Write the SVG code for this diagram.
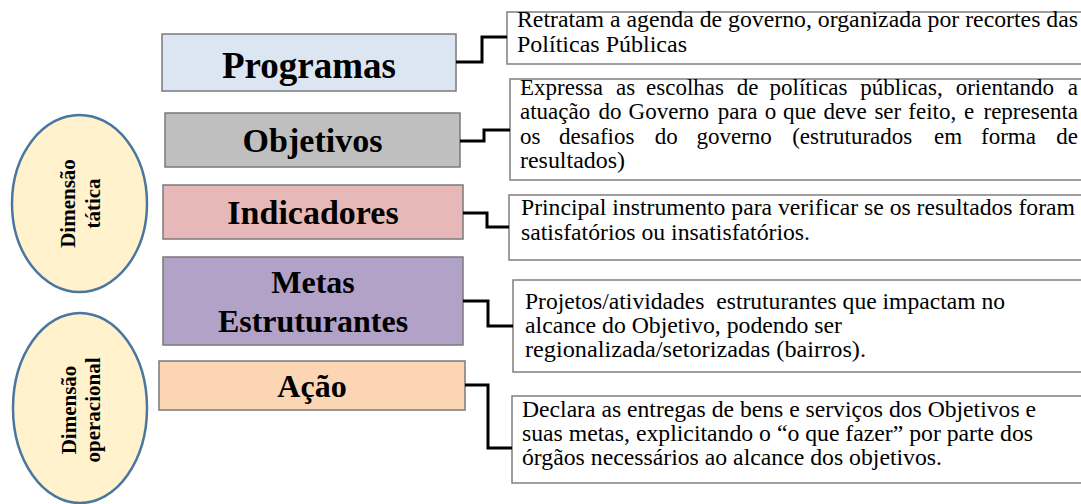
<svg xmlns="http://www.w3.org/2000/svg" width="1081" height="504" viewBox="0 0 1081 504">
<style>
.bg{fill:#ffffff}
.ell{fill:#fff2cc;stroke:#4a76a0;stroke-width:2.5}
.et{font-family:"Liberation Serif","Times New Roman",serif;font-weight:bold;font-size:21px;fill:#000;text-anchor:middle}
.lb{stroke:#7a7a7a;stroke-width:1.5}
.lt{font-family:"Liberation Serif","Times New Roman",serif;font-weight:bold;fill:#000;text-anchor:middle}
.rb{fill:#ffffff;stroke:#7f7f7f;stroke-width:1.5}
.rt{font-family:"Liberation Serif","Times New Roman","DejaVu Serif",serif;font-weight:normal;font-size:23px;fill:#000}
.con{fill:none;stroke:#000;stroke-width:3}
</style>
<rect class="bg" x="0" y="0" width="1081" height="504"/>

<g id="dim-tatica">
<ellipse class="ell" cx="79.5" cy="203.5" rx="67.5" ry="88.5"/>
<g transform="translate(79.5,203.5) rotate(-90)">
<text class="et" x="0" y="-4.5">Dimensão</text>
<text class="et" x="0" y="20">tática</text>
</g>
</g>

<g id="dim-operacional">
<ellipse class="ell" cx="80" cy="408" rx="67" ry="95"/>
<g transform="translate(80,410) rotate(-90)">
<text class="et" x="0" y="-4">Dimensão</text>
<text class="et" x="0" y="20">operacional</text>
</g>
</g>

<g id="programas">
<rect class="lb" x="162" y="34" width="294" height="57" fill="#dce6f2"/>
<text class="lt" x="309" y="78" font-size="37">Programas</text>
</g>

<g id="objetivos">
<rect class="lb" x="165" y="113" width="295" height="54" fill="#bfbfbf"/>
<text class="lt" x="312.5" y="152" font-size="34">Objetivos</text>
</g>

<g id="indicadores">
<rect class="lb" x="163" y="185" width="300" height="54" fill="#e6b9b8"/>
<text class="lt" x="313" y="224" font-size="34">Indicadores</text>
</g>

<g id="metas">
<rect class="lb" x="163" y="257" width="300" height="88" fill="#b3a2c7"/>
<text class="lt" x="313" y="293" font-size="32">Metas</text>
<text class="lt" x="313" y="332" font-size="32">Estruturantes</text>
</g>

<g id="acao">
<rect class="lb" x="159" y="361" width="306" height="49" fill="#fcd5b5"/>
<text class="lt" x="312" y="397" font-size="32">Ação</text>
</g>

<g id="desc-programas">
<rect class="rb" x="507" y="12" width="590" height="52"/>
<text class="rt" x="517" y="27" textLength="561" lengthAdjust="spacingAndGlyphs">Retratam a agenda de governo, organizada por recortes das</text>
<text class="rt" x="517" y="52" textLength="170" lengthAdjust="spacingAndGlyphs">Políticas Públicas</text>
</g>

<g id="desc-objetivos">
<rect class="rb" x="510" y="79" width="590" height="101"/>
<text class="rt" y="95"><tspan x="520">Expressa</tspan><tspan x="616">as</tspan><tspan x="646.1">escolhas</tspan><tspan x="736.8">de</tspan><tspan x="769.6">políticas</tspan><tspan x="860.3">públicas,</tspan><tspan x="955.7">orientando</tspan><tspan x="1078" text-anchor="end">a</tspan></text>
<text class="rt" y="119"><tspan x="520">atuação</tspan><tspan x="598.6">do</tspan><tspan x="628.6">Governo</tspan><tspan x="717.8">para</tspan><tspan x="764.8">o</tspan><tspan x="782.9">que</tspan><tspan x="823.4">deve</tspan><tspan x="874.4">ser</tspan><tspan x="908.3">feito,</tspan><tspan x="963.9">e</tspan><tspan x="1078" text-anchor="end">representa</tspan></text>
<text class="rt" y="144"><tspan x="520">os</tspan><tspan x="559.1">desafios</tspan><tspan x="654.8">do</tspan><tspan x="696.5">governo</tspan><tspan x="792.2">(estruturados</tspan><tspan x="934">em</tspan><tspan x="981">forma</tspan><tspan x="1078" text-anchor="end">de</tspan></text>
<text class="rt" x="520" y="168" textLength="105" lengthAdjust="spacingAndGlyphs">resultados)</text>
</g>

<g id="desc-indicadores">
<rect class="rb" x="509" y="195" width="590" height="65"/>
<text class="rt" x="521" y="215" textLength="554" lengthAdjust="spacingAndGlyphs">Principal instrumento para verificar se os resultados foram</text>
<text class="rt" x="521" y="240" textLength="289" lengthAdjust="spacingAndGlyphs">satisfatórios ou insatisfatórios.</text>
</g>

<g id="desc-metas">
<rect class="rb" x="513" y="280" width="590" height="92"/>
<text class="rt" x="525" y="309" textLength="480" lengthAdjust="spacingAndGlyphs" xml:space="preserve">Projetos/atividades  estruturantes que impactam no</text>
<text class="rt" x="525" y="333" textLength="317" lengthAdjust="spacingAndGlyphs">alcance do Objetivo, podendo ser</text>
<text class="rt" x="525" y="357" textLength="341" lengthAdjust="spacingAndGlyphs">regionalizada/setorizadas (bairros).</text>
</g>

<g id="desc-acao">
<rect class="rb" x="512" y="396" width="590" height="87"/>
<text class="rt" x="522" y="417" textLength="514" lengthAdjust="spacingAndGlyphs">Declara as entregas de bens e serviços dos Objetivos e</text>
<text class="rt" x="522" y="441" textLength="511" lengthAdjust="spacingAndGlyphs">suas metas, explicitando o “o que fazer” por parte dos</text>
<text class="rt" x="522" y="465" textLength="420" lengthAdjust="spacingAndGlyphs">órgãos necessários ao alcance dos objetivos.</text>
</g>

<g id="connectors">
<path class="con" d="M456,62 H482 V37 H507"/>
<path class="con" d="M460,141 H484 V130 H510"/>
<path class="con" d="M463,213 H487 V227 H509"/>
<path class="con" d="M463,301 H488 V326 H513"/>
<path class="con" d="M465,385 H488 V448 H512"/>
</g>
</svg>
